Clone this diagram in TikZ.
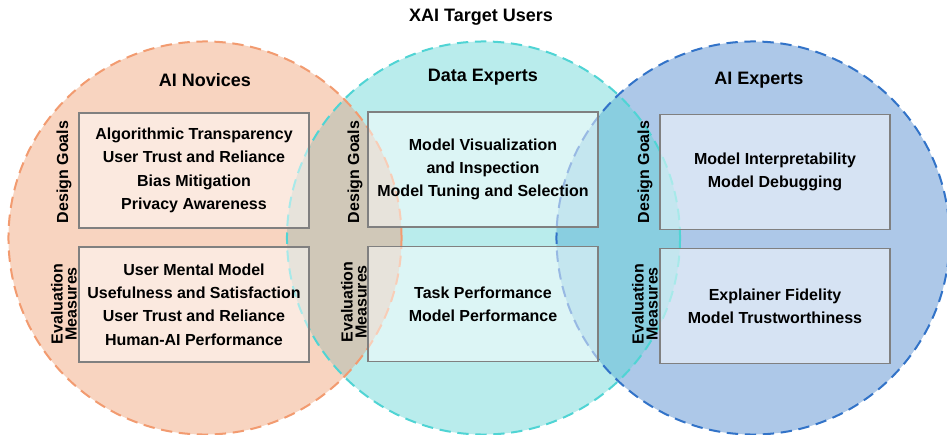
\documentclass[tikz,border=0pt]{standalone}
\usepackage{fontspec}
\setmainfont{Liberation Sans}
\definecolor{lfill}{RGB}{248,212,192}
\definecolor{mfill}{RGB}{185,236,236}
\definecolor{rfill}{RGB}{173,200,232}
\definecolor{lmfill}{RGB}{208,200,184}
\definecolor{mrfill}{RGB}{137,206,224}
\definecolor{lline}{RGB}{242,155,112}
\definecolor{mline}{RGB}{80,212,212}
\definecolor{rline}{RGB}{50,115,200}
\definecolor{boxline}{RGB}{128,128,128}
\tikzset{
  ring/.style={line width=1.5pt, dash pattern=on 8.5pt off 5pt},
  itembox/.style={draw=boxline, line width=0.9pt, fill=white, fill opacity=0.5, text opacity=1,
    minimum width=172.5pt, minimum height=86.25pt, inner sep=0pt, align=center,
    font=\bfseries\fontsize{12}{17.5}\selectfont},
  sidelabel/.style={rotate=90, align=center, inner sep=0pt,
    font=\bfseries\fontsize{12}{10.5}\selectfont},
  header/.style={font=\bfseries\fontsize{13.5}{16}\selectfont, inner sep=0pt},
}
\begin{document}
\begin{tikzpicture}[x=0.75pt,y=-0.75pt]
\useasboundingbox (0,0) rectangle (947,435);
\coordinate (L) at (205,238);
\coordinate (M) at (483.5,238);
\coordinate (R) at (753,238);
\def\rr{147.4pt}
% fills
\fill[lfill] (L) circle [radius=\rr];
\fill[mfill] (M) circle [radius=\rr];
\fill[rfill] (R) circle [radius=\rr];
\begin{scope}
  \clip (L) circle [radius=\rr];
  \fill[lmfill] (M) circle [radius=\rr];
\end{scope}
\begin{scope}
  \clip (M) circle [radius=\rr];
  \fill[mrfill] (R) circle [radius=\rr];
\end{scope}
% borders
\draw[ring, lline] (L) circle [radius=\rr];
\draw[ring, mline] (M) circle [radius=\rr];
\draw[ring, rline] (R) circle [radius=\rr];
% title and headers
\node[header] (title) at (481,17) {XAI Target Users};
\node[header] (hnov) at (205,80) {AI Novices};
\node[header] (hdata) at (483,77) {Data Experts};
\node[header] (hexp) at (759,80) {AI Experts};
% boxes
\node[itembox] (ldg) at (194,170.5) {Algorithmic Transparency\\User Trust and Reliance\\Bias Mitigation\\Privacy Awareness};
\node[itembox] (lem) at (194,304.5) {User Mental Model\\Usefulness and Satisfaction\\User Trust and Reliance\\Human-AI Performance};
\node[itembox] (mdg) at (483,169.5) {Model Visualization\\and Inspection\\Model Tuning and Selection};
\node[itembox] (mem) at (483,304) {Task Performance\\Model Performance};
\node[itembox] (rdg) at (775,172) {Model Interpretability\\Model Debugging};
\node[itembox] (rem) at (775,306) {Explainer Fidelity\\Model Trustworthiness};
% side labels
\node[sidelabel] (ldgl) at (64,172) {Design Goals};
\node[sidelabel] (leml) at (64,304) {Evaluation\\Measures};
\node[sidelabel] (mdgl) at (355,172) {Design Goals};
\node[sidelabel] (meml) at (354,302) {Evaluation\\Measures};
\node[sidelabel] (rdgl) at (645,172) {Design Goals};
\node[sidelabel] (reml) at (645,304) {Evaluation\\Measures};
\end{tikzpicture}
\end{document}
